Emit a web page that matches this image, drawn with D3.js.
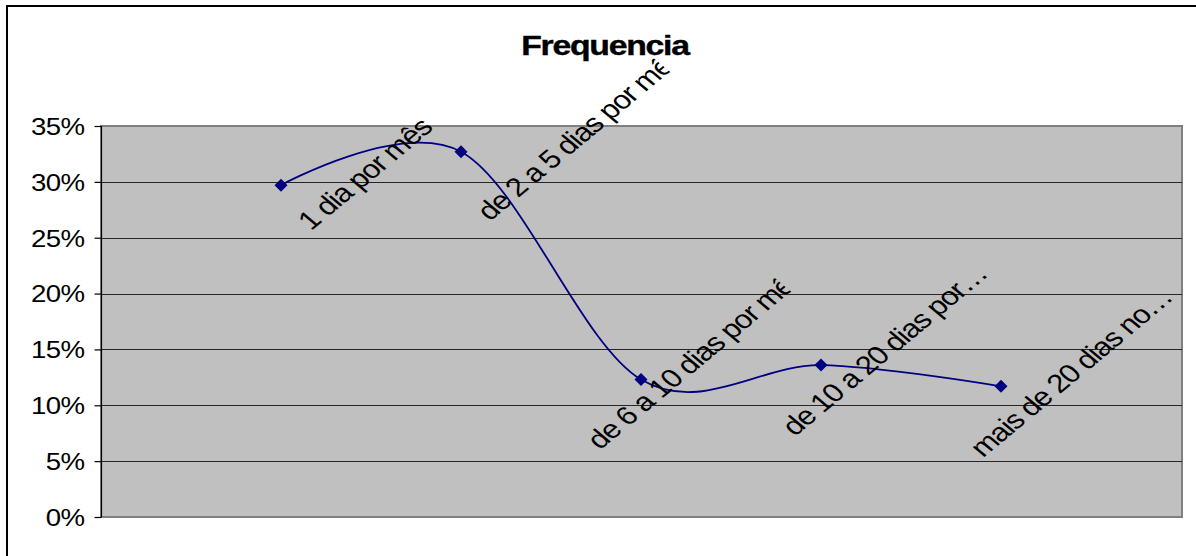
<!DOCTYPE html>
<html>
<head>
<meta charset="utf-8">
<script src="https://cdn.jsdelivr.net/npm/d3@7"></script>
<style>
  html, body { margin: 0; padding: 0; background: #fff; }
  svg { display: block; }
  text { font-family: "Liberation Sans", Arial, sans-serif; }
</style>
</head>
<body>
<svg id="chart" width="1196" height="556"></svg>
<script>
// ---- data ----
const title = "Frequencia";
const categories = [
  "1 dia por mês",
  "de 2 a 5 dias por mês",
  "de 6 a 10 dias por mês",
  "de 10 a 20 dias por…",
  "mais de 20 dias no…"
];
const values = [0.297, 0.327, 0.123, 0.136, 0.117];
const yTicks = [0, 0.05, 0.10, 0.15, 0.20, 0.25, 0.30, 0.35];

// ---- layout ----
const W = 1196, H = 556;
const plot = { left: 101, top: 126, right: 1182, bottom: 517 };
const stretch = 1.2;             // horizontal text stretch seen in the original
const labelNudge = [[30, 46], [29, 70], [-41, 71], [-26, 72], [-18, 72]];
const labelClip = [400, 212, 225, 400, 400];

const svg = d3.select("#chart");

// outer frame (cut at right/bottom like the original)
svg.append("rect")
  .attr("x", 7).attr("y", 6)
  .attr("width", 1210).attr("height", 570)
  .attr("fill", "#fff").attr("stroke", "#000").attr("stroke-width", 2);

const x = d3.scalePoint().domain(categories).range([plot.left, plot.right - 1]).padding(1);
const y = d3.scaleLinear().domain([0, 0.35]).range([plot.bottom, plot.top]);

// plot area
svg.append("rect")
  .attr("x", plot.left).attr("y", plot.top)
  .attr("width", plot.right - plot.left).attr("height", plot.bottom - plot.top)
  .attr("fill", "#c0c0c0").attr("stroke", "#808080").attr("stroke-width", 2);

// gridlines
svg.append("g").selectAll("line")
  .data(yTicks.filter(d => d > 0 && d < 0.35))
  .join("line")
  .attr("x1", plot.left).attr("x2", plot.right)
  .attr("y1", d => Math.round(y(d)) + 0.5).attr("y2", d => Math.round(y(d)) + 0.5)
  .attr("stroke", "#262626").attr("stroke-width", 1);

// y axis
const yAxis = d3.axisLeft(y).tickValues(yTicks).tickFormat(d3.format(".0%")).tickSize(7).tickPadding(0);
const gy = svg.append("g").attr("transform", `translate(${plot.left + 0.5},0)`).call(yAxis);
gy.select(".domain").attr("stroke", "#000").attr("stroke-width", 1.2).attr("d", `M0,${plot.top}V${plot.bottom}`);
gy.selectAll(".tick line").attr("stroke", "#000").attr("stroke-width", 1.2);
gy.selectAll(".tick text")
  .attr("x", -17 / stretch)
  .attr("dy", "0.36em")
  .attr("transform", `scale(${stretch},1)`)
  .attr("fill", "#000")
  .style("font-size", "23px")
  .style("letter-spacing", "-0.5px")
  .style("font-family", "'Liberation Sans', Arial, sans-serif");

// title
svg.append("text")
  .attr("transform", `translate(605,55) scale(1.25,1)`)
  .attr("text-anchor", "middle")
  .style("font-size", "27px").style("font-weight", "bold")
  .style("letter-spacing", "-1px")
  .attr("stroke", "#000").attr("stroke-width", 0.4)
  .text(title);

// smoothed line
const pts = categories.map((c, i) => [x(c), y(values[i])]);
svg.append("path")
  .datum(pts)
  .attr("fill", "none").attr("stroke", "#000080").attr("stroke-width", 1.8)
  .attr("d", d3.line().curve(d3.curveCardinal.tension(0)));

// markers
svg.append("g").selectAll("path")
  .data(pts)
  .join("path")
  .attr("fill", "#000080")
  .attr("d", d => `M${d[0]},${d[1] - 6.5}L${d[0] + 6.5},${d[1]}L${d[0]},${d[1] + 6.5}L${d[0] - 6.5},${d[1]}Z`);

// data labels (rotated)
const defs = svg.append("defs");
categories.forEach((c, i) => {
  defs.append("clipPath").attr("id", "clip" + i).attr("clipPathUnits", "userSpaceOnUse")
    .append("rect").attr("x", -5).attr("y", -30).attr("width", labelClip[i] + 5).attr("height", 40);
});
const lab = svg.append("g").selectAll("g")
  .data(categories)
  .join("g")
  .attr("transform", (c, i) => `translate(${x(c) + labelNudge[i][0]},${y(values[i]) + labelNudge[i][1]}) scale(${stretch},1) rotate(-45)`);
lab.append("text")
  .attr("clip-path", (c, i) => `url(#clip${i})`)
  .attr("fill", "#000")
  .style("font-size", "26px")
  .style("letter-spacing", "-1px")
  .text(c => c);
</script>
</body>
</html>
